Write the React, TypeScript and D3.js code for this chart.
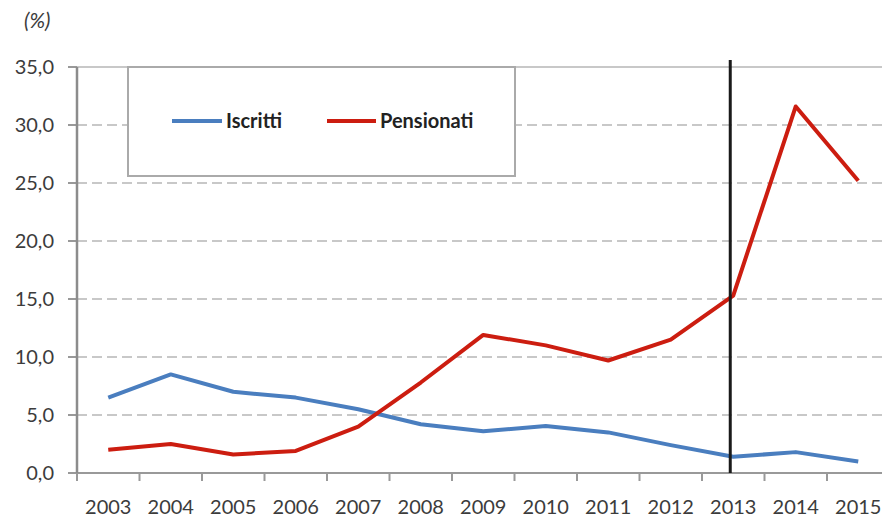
import React from "react";
import * as d3 from "d3";

const years = ["2003","2004","2005","2006","2007","2008","2009","2010","2011","2012","2013","2014","2015"];
const iscritti = [6.5, 8.5, 7.0, 6.5, 5.5, 4.2, 3.6, 4.05, 3.5, 2.4, 1.4, 1.8, 1.0];
const pensionati = [2.0, 2.5, 1.6, 1.9, 4.0, 7.8, 11.9, 11.0, 9.7, 11.5, 15.3, 31.6, 25.2];
const yTicks = [0, 5, 10, 15, 20, 25, 30, 35];
const markerYear = "2013";

const W = 882, H = 522;
const left = 77, right = 889.5, top = 67, bottom = 473;
const FONT = "Lato, 'Open Sans', sans-serif";

export default function App() {
  const x = d3.scaleBand<string>().domain(years).range([left, right]).padding(0);
  const y = d3.scaleLinear().domain([0, 35]).range([bottom, top]);
  const cx = (yr: string) => (x(yr) as number) + x.bandwidth() / 2;
  const line = d3.line<number>().x((_, i) => cx(years[i])).y(d => y(d));
  const fmt = (v: number) => v.toFixed(1).replace(".", ",");
  const markerX = cx(markerYear) - 3;

  return (
    <svg width={W} height={H} style={{ position: "absolute", left: 0, top: 0, background: "#fff" }}>
      <rect width={W} height={H} fill="#fff" />
      {yTicks.filter(t => t > 0).map(t => (
        <line key={t} x1={left} x2={W} y1={y(t)} y2={y(t)}
          stroke="#c8c8c8" strokeWidth={2}
          strokeDasharray={t === 35 ? undefined : "10,5"} />
      ))}
      {yTicks.map(t => (
        <g key={t}>
          <line x1={left - 9} x2={left} y1={y(t)} y2={y(t)} stroke="#999" strokeWidth={2} />
          <text x={54} y={y(t)} dy="0.35em" textAnchor="end" fontFamily={FONT} fontSize={20} fill="#3c3c3c">{fmt(t)}</text>
        </g>
      ))}
      <line x1={left} x2={W} y1={bottom} y2={bottom} stroke="#999" strokeWidth={2} />
      {years.map(yr => (
        <g key={yr}>
          <line x1={x(yr) as number} x2={x(yr) as number} y1={bottom} y2={bottom + 8} stroke="#999" strokeWidth={2} />
          <text x={cx(yr)} y={507} dy="0.35em" textAnchor="middle" fontFamily={FONT} fontSize={20} fill="#3c3c3c">{yr}</text>
        </g>
      ))}
      <line x1={left} x2={left} y1={top} y2={bottom} stroke="#8c8c8c" strokeWidth={2.5} />
      <text x={24} y={28} fontFamily={FONT} fontStyle="italic" fontSize={21} fill="#3c3c3c">(%)</text>
      <rect x={128} y={top} width={387} height={109} fill="#fff" stroke="#aaa" strokeWidth={2} />
      <line x1={172} x2={222} y1={121} y2={121} stroke="#4a7ebf" strokeWidth={4} />
      <text x={226} y={121} dy="0.35em" fontFamily={FONT} fontWeight="bold" fontSize={20} fill="#222">Iscritti</text>
      <line x1={327} x2={376} y1={121} y2={121} stroke="#cc1d10" strokeWidth={4} />
      <text x={380} y={121} dy="0.35em" fontFamily={FONT} fontWeight="bold" fontSize={20} fill="#222">Pensionati</text>
      <path d={line(iscritti) as string} fill="none" stroke="#4a7ebf" strokeWidth={4} strokeLinejoin="round" />
      <path d={line(pensionati) as string} fill="none" stroke="#cc1d10" strokeWidth={4} strokeLinejoin="round" />
      <line x1={markerX} x2={markerX} y1={60} y2={bottom} stroke="#1a1a1a" strokeWidth={3} />
    </svg>
  );
}
